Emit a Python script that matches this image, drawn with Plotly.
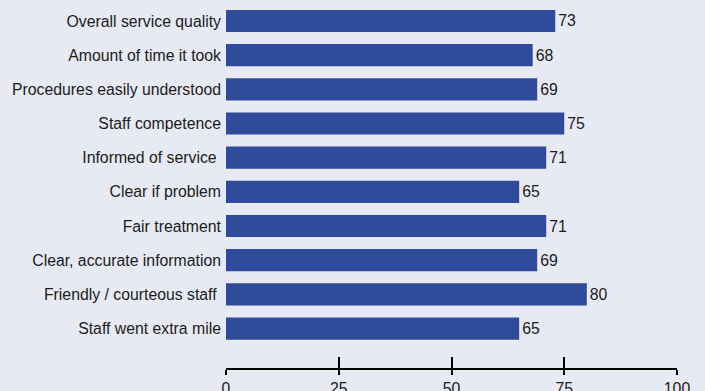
import plotly.graph_objects as go

categories = [
    "Overall service quality",
    "Amount of time it took",
    "Procedures easily understood",
    "Staff competence",
    "Informed of service\u00a0",
    "Clear if problem",
    "Fair treatment",
    "Clear, accurate information",
    "Friendly / courteous staff\u00a0",
    "Staff went extra mile",
]
scores = [73, 68, 69, 75, 71, 65, 71, 69, 80, 65]
tick_values = [0, 25, 50, 75, 100]

BG = "#e7e9f3"
BAR = "#2f4a9b"
INK = "#1c1c1c"
FONT = "Liberation Sans, Arial, sans-serif"
SIZE = 15.8

fig = go.Figure(
    go.Bar(
        x=scores,
        y=categories,
        orientation="h",
        marker=dict(color=BAR, line=dict(width=0)),
        width=0.65,
        text=[str(v) for v in scores],
        textposition="outside",
        cliponaxis=False,
        textfont=dict(family=FONT, size=SIZE, color=INK),
    )
)

n = len(categories)
fig.update_layout(
    template="none",
    width=705,
    height=391,
    margin=dict(l=226, r=28, t=0, b=23, pad=0),
    paper_bgcolor=BG,
    plot_bgcolor=BG,
    showlegend=False,
    font=dict(family=FONT, size=SIZE, color=INK),
    xaxis=dict(
        range=[0, 100],
        tickvals=tick_values,
        ticks="outside",
        ticklen=5,
        tickwidth=2,
        tickcolor="black",
        showline=True,
        linecolor="black",
        linewidth=2,
        showgrid=False,
        zeroline=False,
        automargin=False,
        ticklabelstandoff=0,
        tickfont=dict(family=FONT, size=SIZE, color=INK),
    ),
    xaxis2=dict(
        range=[0, 100],
        overlaying="x",
        side="bottom",
        anchor="y",
        tickvals=tick_values,
        ticks="inside",
        ticklen=11,
        tickwidth=2,
        tickcolor="black",
        showticklabels=False,
        showgrid=False,
        zeroline=False,
        automargin=False,
    ),
    yaxis=dict(
        categoryorder="array",
        categoryarray=categories,
        range=[n - 1 + 1.155, -0.614],
        ticks="",
        showline=False,
        showgrid=False,
        zeroline=False,
        automargin=False,
        ticklabelstandoff=4,
        tickfont=dict(family=FONT, size=SIZE, color=INK),
    ),
)

# invisible trace so the second x axis is drawn
fig.add_trace(go.Scatter(x=[0, 100], y=[categories[0], categories[0]], xaxis="x2",
                         mode="markers", marker=dict(opacity=0), hoverinfo="skip"))

fig.write_html("out.html")
